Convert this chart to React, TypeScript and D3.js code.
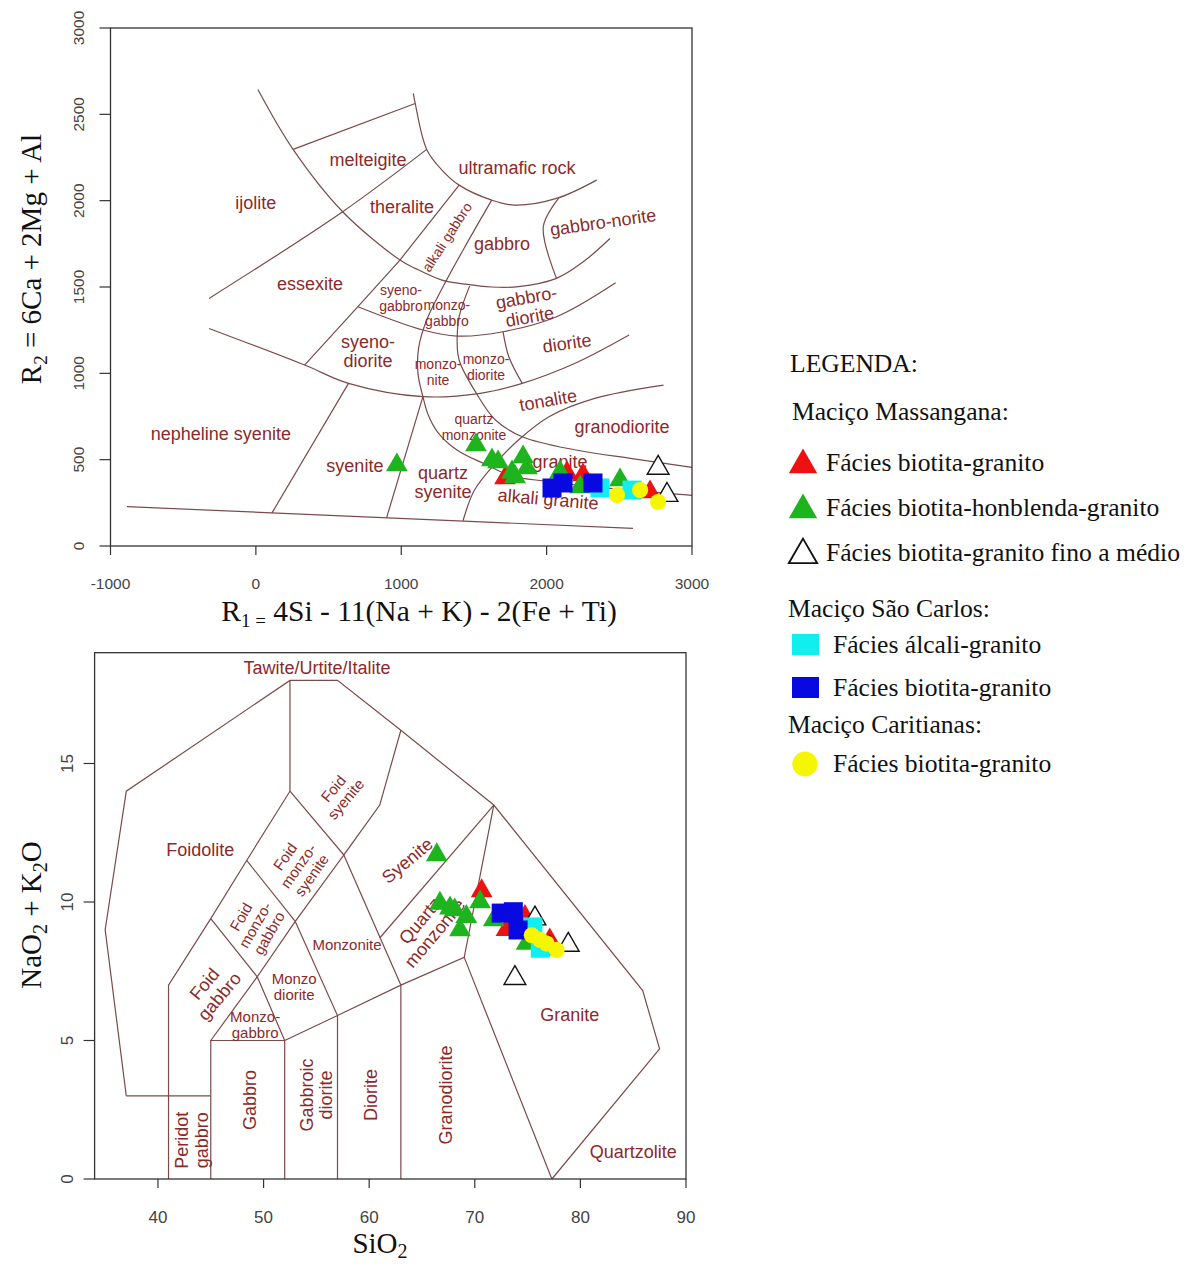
import React from 'react';
import * as d3 from 'd3';

const W = 1194;
const H = 1264;

const LINE = '#7b4a4a';
const LABEL = '#8b2a2a';
const AXIS = '#333';
const TICK_TXT = '#444';
const SANS = '"Liberation Sans", Arial, sans-serif';
const SERIF = '"Liberation Serif", "Times New Roman", serif';

type P = [number, number];

// ---------- R1-R2 diagram (De la Roche) ----------
const r1Ticks = [-1000, 0, 1000, 2000, 3000];
const r2Ticks = [0, 500, 1000, 1500, 2000, 2500, 3000];

// curved field boundaries, R1/R2 units
const r1r2Curves: P[][] = [
  [[14, 2644], [256, 2297], [597, 1936], [991, 1656], [1096, 1608], [1280, 1540], [1438, 1517], [1620, 1500], [1806, 1502], [2068, 1550], [2252, 1646], [2436, 1781]],
  [[-322, 1434], [597, 1936], [1175, 2297]],
  [[1083, 2621], [1096, 2563], [1175, 2297], [1280, 2177], [1398, 2090], [1622, 2003], [1779, 1974], [2068, 2013], [2344, 2119]],
  [[1622, 2003], [1438, 1733], [1280, 1490], [1175, 1309], [1120, 1150], [1115, 1000], [1149, 865], [1185, 760], [1250, 660], [1383, 556], [1590, 469], [1760, 405], [2000, 375], [2305, 344], [2962, 296], [3000, 293]],
  [[702, 1386], [1149, 1251], [1385, 1216], [1700, 1241], [2068, 1328], [2475, 1525]],
  [[-322, 1260], [335, 1048], [637, 942], [1149, 865], [1543, 884], [1832, 942], [2200, 1060], [2567, 1222]],
  [[1470, 1505], [1398, 1328], [1385, 1216]],
  [[1385, 1216], [1398, 1077], [1517, 884], [1648, 730], [1832, 633], [2200, 556], [2600, 505], [3000, 455]],
  [[1700, 1241], [1740, 1096], [1832, 942]],
  [[2082, 2013], [1977, 1849], [2068, 1550]],
  [[1425, 146], [1504, 324], [1648, 479], [1806, 614], [2016, 749], [2331, 855], [2804, 932]],
];

// straight field boundaries
const r1r2Straight: P[][] = [
  [[256, 2297], [1096, 2563]],
  [[1398, 2090], [991, 1656], [702, 1386], [335, 1048]],
  [[-887, 228], [2594, 102]],
  [[637, 942], [111, 192]],
  [[1149, 865], [899, 163]],
];

const r1r2Labels: [string, number, number][] = [
  ['melteigite', 771, 2235],
  ['ultramafic rock', 1796, 2189],
  ['ijolite', 0, 1986],
  ['theralite', 1005, 1963],
  ['alkali gabbro', 1314, 1789],
  ['gabbro', 1693, 1749],
  ['gabbro-norite', 2388, 1876],
  ['essexite', 372, 1517],
  ['syeno-\ngabbro', 998, 1436],
  ['monzo-\ngabbro', 1314, 1349],
  ['gabbro-\ndiorite', 1872, 1384],
  ['syeno-\ndiorite', 771, 1129],
  ['monzo-\nnite', 1253, 1007],
  ['monzo-\ndiorite', 1583, 1036],
  ['diorite', 2140, 1175],
  ['tonalite', 2010, 845],
  ['granodiorite', 2519, 689],
  ['nepheline syenite', -241, 648],
  ['quartz\nmonzonite', 1500, 689],
  ['syenite', 681, 463],
  ['quartz\nsyenite', 1287, 370],
  ['granite', 2092, 486],
  ['alkali granite', 2010, 272],
];
const r1r2Tilt: Record<string, number> = {
  'alkali gabbro': -57,
  'gabbro-norite': -8,
  'gabbro-\ndiorite': -10,
  diorite: -8,
  tonalite: -10,
  'alkali granite': 5,
};
const r1r2Small = ['alkali gabbro', 'syeno-\ngabbro', 'monzo-\ngabbro', 'monzo-\nnite', 'monzo-\ndiorite', 'quartz\nmonzonite'];

const r1r2Red: P[] = [[1714, 394], [2140, 423], [2250, 411], [2711, 313]];
const r1r2Green: P[] = [[970, 469], [1514, 585], [1624, 498], [1666, 486], [1762, 428], [1838, 515], [1865, 452], [1783, 400], [2092, 428], [2230, 342], [2505, 382]];
const r1r2White: P[] = [[2767, 452], [2828, 295]];
const r1r2Cyan: P[] = [[2367, 336], [2588, 324]];
const r1r2Blue: P[] = [[2037, 336], [2113, 365], [2319, 365]];
const r1r2Yellow: P[] = [[2484, 295], [2643, 324], [2767, 255]];

// ---------- TAS plutonic diagram (Middlemost) ----------
const silicaTicks = [40, 50, 60, 70, 80, 90];
const alkaliTicks = [0, 5, 10, 15];

const tasLines: P[][] = [
  [[37, 3], [35, 9], [37, 14], [52.5, 18], [57, 18], [63, 16.2], [71.8, 13.5], [85.9, 6.8], [87.5, 4.7], [77.3, 0]],
  [[37, 3], [45, 3]],
  [[41, 0], [41, 7], [45, 9.4], [48.4, 11.5], [52.5, 14], [52.5, 18]],
  [[45, 0], [45, 5], [52, 5], [52, 0]],
  [[45, 5], [49.4, 7.3], [52, 5]],
  [[45, 9.4], [49.4, 7.3], [53, 9.3], [57.6, 11.7], [63, 7]],
  [[48.4, 11.5], [53, 9.3]],
  [[52.5, 14], [57.6, 11.7], [61, 13.5], [63, 16.2]],
  [[52, 5], [57, 5.9], [63, 7], [69, 8], [71.8, 13.5]],
  [[53, 9.3], [57, 5.9], [57, 0]],
  [[63, 0], [63, 7]],
  [[69, 8], [77.3, 0]],
  [[61, 8.7], [71.8, 13.5]],
];

const tasLabels: [string, number, number][] = [
  ['Tawite/Urtite/Italite', 55.06, 18.45],
  ['Foidolite', 44.0, 11.9],
  ['Foid\nsyenite', 57.2, 13.9],
  ['Foid\nmonzo-\nsyenite', 53.3, 11.3],
  ['Foid\nmonzo-\ngabbro', 49.2, 9.17],
  ['Foid\ngabbro', 45.1, 6.82],
  ['Monzo\ndiorite', 52.9, 6.93],
  ['Monzo-\ngabbro', 49.2, 5.56],
  ['Monzonite', 57.9, 8.45],
  ['Syenite', 63.6, 11.5],
  ['Quartz\nmonzonite', 65.5, 9.1],
  ['Granite', 79.0, 5.92],
  ['Quartzolite', 85.0, 0.97],
  ['Peridot\ngabbro', 43.2, 1.4],
  ['Gabbro', 48.7, 2.85],
  ['Gabbroic\ndiorite', 55.0, 3.03],
  ['Diorite', 60.1, 3.03],
  ['Granodiorite', 67.2, 3.03],
];
const tasTilt: Record<string, number> = {
  'Foid\nsyenite': -50,
  'Foid\nmonzo-\nsyenite': -55,
  'Foid\nmonzo-\ngabbro': -60,
  'Foid\ngabbro': -50,
  Syenite: -40,
  'Quartz\nmonzonite': -50,
  'Peridot\ngabbro': -90,
  Gabbro: -90,
  'Gabbroic\ndiorite': -90,
  Diorite: -90,
  Granodiorite: -90,
};
const tasSmall = ['Foid\nsyenite', 'Foid\nmonzo-\nsyenite', 'Foid\nmonzo-\ngabbro', 'Monzo\ndiorite', 'Monzo-\ngabbro', 'Monzonite'];

const tasRed: P[] = [[70.65, 10.4], [73.0, 9.0], [74.75, 9.47], [77.1, 8.63]];
const tasGreen: P[] = [[66.4, 11.7], [66.7, 9.95], [67.65, 9.78], [68.1, 9.71], [69.2, 9.47], [68.6, 8.99], [70.5, 10.0], [71.8, 9.35], [74.9, 8.5]];
const tasWhite: P[] = [[75.7, 9.4], [78.85, 8.45], [73.8, 7.25], [77.1, 8.33]];
const tasCyan: P[] = [[75.5, 9.1], [76.2, 8.33]];
const tasBlue: P[] = [[72.5, 9.6], [73.65, 9.65], [74.1, 8.99]];
const tasYellow: P[] = [[75.4, 8.8], [76.2, 8.63], [76.8, 8.5], [77.75, 8.27]];

// ---------- legend ----------
const legendGroups = ['Maciço Massangana:', 'Maciço São Carlos:', 'Maciço Caritianas:'];
const legendItems = [
  'Fácies biotita-granito',
  'Fácies biotita-honblenda-granito',
  'Fácies biotita-granito fino a médio',
  'Fácies álcali-granito',
  'Fácies biotita-granito',
  'Fácies biotita-granito',
];

const styles = {
  red: { shape: d3.symbolTriangle, fill: '#ee1111', stroke: 'none' },
  green: { shape: d3.symbolTriangle, fill: '#1db41d', stroke: 'none' },
  white: { shape: d3.symbolTriangle, fill: '#fff', stroke: '#111' },
  cyan: { shape: d3.symbolSquare, fill: '#10eeee', stroke: 'none' },
  blue: { shape: d3.symbolSquare, fill: '#0808e0', stroke: 'none' },
  yellow: { shape: d3.symbolCircle, fill: '#f6f600', stroke: 'none' },
};
const markSize: Record<string, number> = { triangle: 205, square: 361, circle: 205 };

const xR = d3.scaleLinear().domain([-1000, 3000]).range([110.5, 692]);
const yR = d3.scaleLinear().domain([0, 3000]).range([546, 28]);
const xT = d3.scaleLinear().domain([34, 90]).range([94.6, 686]);
const yT = d3.scaleLinear().domain([0, 19]).range([1179, 652.7]);

function sizeFor(shape: any) {
  if (shape === d3.symbolTriangle) return markSize.triangle;
  if (shape === d3.symbolSquare) return markSize.square;
  return markSize.circle;
}

function Marks({ pts, kind, x, y }: { pts: P[]; kind: keyof typeof styles; x: any; y: any }) {
  const st = styles[kind];
  const path = d3.symbol().type(st.shape).size(sizeFor(st.shape))() as string;
  return (
    <g>
      {pts.map((p, i) => (
        <path
          key={i}
          d={path}
          transform={`translate(${x(p[0])},${y(p[1])})`}
          fill={st.fill}
          stroke={st.stroke}
          strokeWidth={1.4}
        />
      ))}
    </g>
  );
}

function FieldLabel({ text, px, py, rot, size }: { text: string; px: number; py: number; rot: number; size: number }) {
  const lines = text.split('\n');
  const lh = size * 1.08;
  const top = -((lines.length - 1) * lh) / 2 + size * 0.35;
  return (
    <text
      transform={`translate(${px},${py}) rotate(${rot})`}
      fontSize={size}
      fill={LABEL}
      fontFamily={SANS}
      textAnchor="middle"
    >
      {lines.map((l, i) => (
        <tspan key={i} x={0} y={top + i * lh}>
          {l}
        </tspan>
      ))}
    </text>
  );
}

function Frame({ x, y, xTicks, yTicks, fs, yLabX, xLabY }: any) {
  const [x0, x1] = x.range();
  const [y0, y1] = y.range();
  return (
    <g>
      <rect x={x0} y={y1} width={x1 - x0} height={y0 - y1} fill="none" stroke={AXIS} strokeWidth={1.3} />
      {xTicks.map((t: number) => (
        <g key={'x' + t}>
          <line x1={x(t)} x2={x(t)} y1={y0} y2={y0 + 9} stroke={AXIS} strokeWidth={1.2} />
          <text x={x(t)} y={xLabY} fontSize={fs} fontFamily={SANS} fill={TICK_TXT} textAnchor="middle">
            {t}
          </text>
        </g>
      ))}
      {yTicks.map((t: number) => (
        <g key={'y' + t}>
          <line x1={x0 - 11} x2={x0} y1={y(t)} y2={y(t)} stroke={AXIS} strokeWidth={1.2} />
          <text
            transform={`translate(${yLabX},${y(t)}) rotate(-90)`}
            fontSize={fs}
            fontFamily={SANS}
            fill={TICK_TXT}
            textAnchor="middle"
          >
            {t}
          </text>
        </g>
      ))}
    </g>
  );
}

const smooth = d3.line().curve(d3.curveCatmullRom.alpha(0.5));
const straight = d3.line();

export default function App() {
  const toR = (p: P): P => [xR(p[0]), yR(p[1])];
  const toT = (p: P): P => [xT(p[0]), yT(p[1])];

  const seriesR: [P[], keyof typeof styles][] = [
    [r1r2Red, 'red'], [r1r2Green, 'green'], [r1r2White, 'white'],
    [r1r2Cyan, 'cyan'], [r1r2Blue, 'blue'], [r1r2Yellow, 'yellow'],
  ];
  const seriesT: [P[], keyof typeof styles][] = [
    [tasRed, 'red'], [tasGreen, 'green'], [tasWhite, 'white'],
    [tasCyan, 'cyan'], [tasBlue, 'blue'], [tasYellow, 'yellow'],
  ];

  const legendKinds: (keyof typeof styles)[] = ['red', 'green', 'white', 'cyan', 'blue', 'yellow'];
  const legendRowY = [463, 508, 553, 645, 688, 764];
  const legendTextX = [826, 826, 826, 833, 833, 833];
  const groupY = [420, 617, 733];
  const groupX = [792, 788, 788];
  const legTri = d3.symbol().type(d3.symbolTriangle).size(350)() as string;

  return (
    <svg
      width={W}
      height={H}
      viewBox={`0 0 ${W} ${H}`}
      style={{ position: 'absolute', left: 0, top: 0, background: '#fff' }}
    >
      {/* ---------- R1-R2 ---------- */}
      <g>
        {r1r2Curves.map((c, i) => (
          <path key={'c' + i} d={smooth(c.map(toR)) as string} fill="none" stroke={LINE} strokeWidth={1.2} />
        ))}
        {r1r2Straight.map((c, i) => (
          <path key={'s' + i} d={straight(c.map(toR)) as string} fill="none" stroke={LINE} strokeWidth={1.2} />
        ))}
        {r1r2Labels.map(([t, a, b]) => (
          <FieldLabel
            key={t}
            text={t}
            px={xR(a)}
            py={yR(b)}
            rot={r1r2Tilt[t] || 0}
            size={r1r2Small.includes(t) ? 14 : 18}
          />
        ))}
        <Frame x={xR} y={yR} xTicks={r1Ticks} yTicks={r2Ticks} fs={15.5} yLabX={84} xLabY={589} />
        {seriesR.map(([pts, k]) => (
          <Marks key={k} pts={pts} kind={k} x={xR} y={yR} />
        ))}
        <text transform="translate(41,259) rotate(-90)" fontFamily={SERIF} fontSize={29} fill="#111" textAnchor="middle">
          R<tspan dy={6} fontSize={19}>2</tspan>
          <tspan dy={-6}> = 6Ca + 2Mg + Al</tspan>
        </text>
        <text x={419} y={621} fontFamily={SERIF} fontSize={29.5} fill="#111" textAnchor="middle">
          R<tspan dy={6} fontSize={19}>1 =</tspan>
          <tspan dy={-6}> 4Si - 11(Na + K) - 2(Fe + Ti)</tspan>
        </text>
      </g>

      {/* ---------- TAS ---------- */}
      <g>
        {tasLines.map((c, i) => (
          <path key={'t' + i} d={straight(c.map(toT)) as string} fill="none" stroke={LINE} strokeWidth={1.2} />
        ))}
        {tasLabels.map(([t, a, b]) => (
          <FieldLabel
            key={t}
            text={t}
            px={xT(a)}
            py={yT(b)}
            rot={tasTilt[t] || 0}
            size={tasSmall.includes(t) ? 15 : 18}
          />
        ))}
        <Frame x={xT} y={yT} xTicks={silicaTicks} yTicks={alkaliTicks} fs={17} yLabX={73} xLabY={1223} />
        {seriesT.map(([pts, k]) => (
          <Marks key={k} pts={pts} kind={k} x={xT} y={yT} />
        ))}
        <text transform="translate(41,915) rotate(-90)" fontFamily={SERIF} fontSize={29} fill="#111" textAnchor="middle">
          NaO<tspan dy={6} fontSize={20}>2</tspan>
          <tspan dy={-6}> + K</tspan>
          <tspan dy={6} fontSize={20}>2</tspan>
          <tspan dy={-6}>O</tspan>
        </text>
        <text x={380} y={1253} fontFamily={SERIF} fontSize={29} fill="#111" textAnchor="middle">
          SiO<tspan dy={5} fontSize={20}>2</tspan>
        </text>
      </g>

      {/* ---------- legend ---------- */}
      <g fontFamily={SERIF} fontSize={25.6} fill="#111">
        <text x={790} y={372}>LEGENDA:</text>
        {legendGroups.map((g, i) => (
          <text key={g} x={groupX[i]} y={groupY[i]}>
            {g}
          </text>
        ))}
        {legendItems.map((t, i) => {
          const k = legendKinds[i];
          const st = styles[k];
          const cy = legendRowY[i];
          let mark;
          if (st.shape === d3.symbolTriangle) {
            mark = (
              <path d={legTri} transform={`translate(803,${cy + 2})`} fill={st.fill} stroke={st.stroke} strokeWidth={1.8} />
            );
          } else if (st.shape === d3.symbolSquare) {
            mark = <rect x={792} y={cy - 11} width={27} height={21} fill={st.fill} />;
          } else {
            mark = <ellipse cx={805} cy={cy} rx={12.7} ry={12.5} fill={st.fill} />;
          }
          return (
            <g key={i}>
              {mark}
              <text x={legendTextX[i]} y={cy + 8}>
                {t}
              </text>
            </g>
          );
        })}
      </g>
    </svg>
  );
}
